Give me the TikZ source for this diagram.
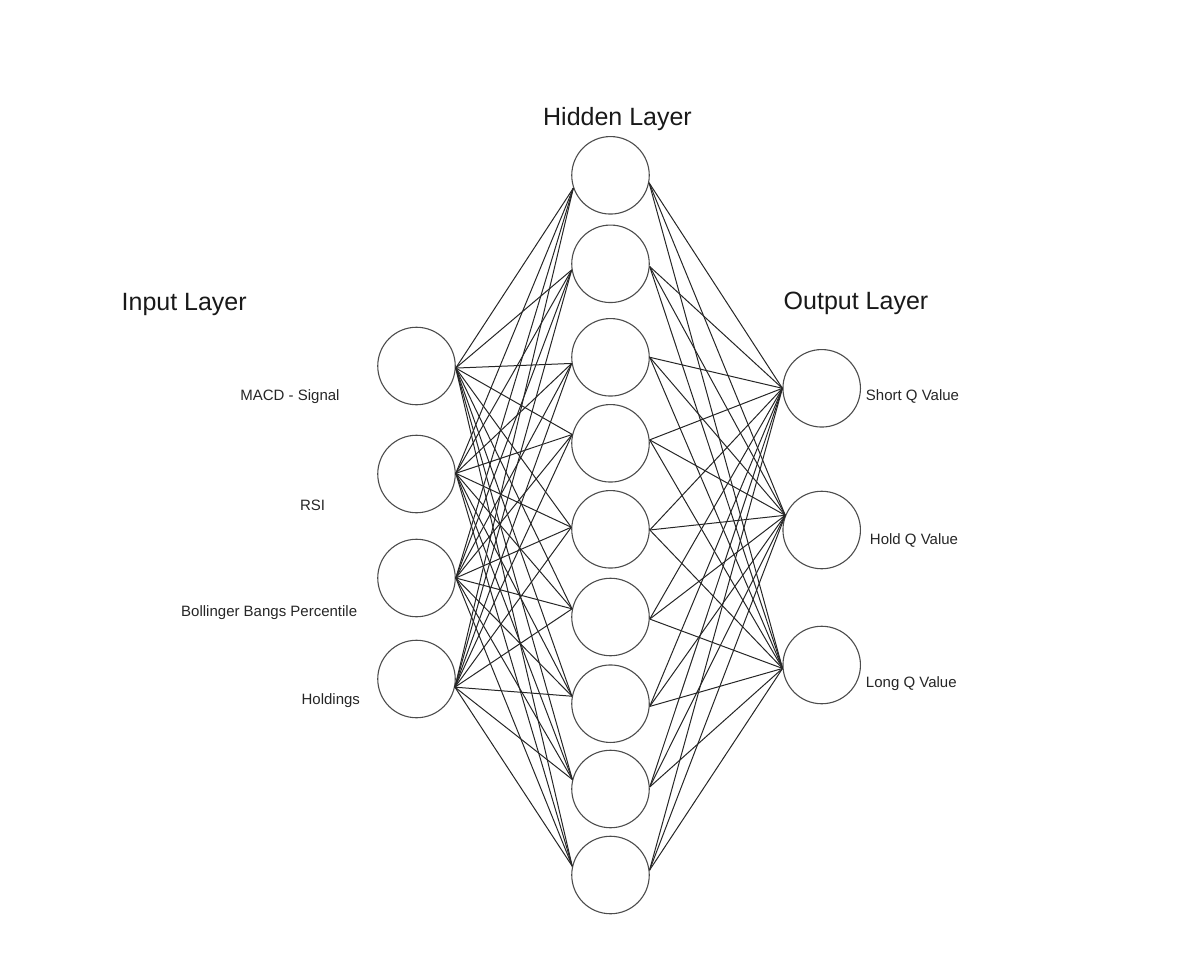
\documentclass[tikz,border=0pt]{standalone}
\usepackage{fontspec}
\setmainfont{Liberation Sans}
\begin{document}
\begin{tikzpicture}[x=1pt,y=-1pt,
  neuron/.style={circle,draw=black!70,line width=1.1pt,minimum size=77.5pt,inner sep=0pt},
  link/.style={draw=black!85,line width=1pt},
  title/.style={font=\fontsize{25}{30}\selectfont,text=black!90,anchor=base,inner sep=0pt},
  lbl/.style={font=\fontsize{15}{18}\selectfont,text=black!85,anchor=base,inner sep=0pt}]
\useasboundingbox (0,0) rectangle (1186,972);

% input layer
\foreach \i/\y/\a in {1/366/-3, 2/474/1.6, 3/578/-0.7, 4/679/-12}{
  \node[neuron] (i\i) at (416.5,\y) {};
  \coordinate (io\i) at (i\i.\a);
}
% hidden layer
\foreach \j/\y/\l/\r in {1/175.3/199.6/-11.9, 2/263.8/189/-4.3, 3/357.3/189/0.9,
  4/443.3/167.6/5.9, 5/529.3/177/-1, 6/617/168.5/-3.4, 7/703.7/169.6/-4.4,
  8/789/166.6/3.4, 9/875/167.6/7.4}{
  \node[neuron] (h\j) at (610.5,\y) {};
  \coordinate (hl\j) at (h\j.\l);
  \coordinate (hr\j) at (h\j.\r);
}
% output layer
\foreach \k/\y/\a in {1/388.3/180, 2/530/158, 3/665/185}{
  \node[neuron] (o\k) at (821.7,\y) {};
  \coordinate (ol\k) at (o\k.\a);
}

% connections
\foreach \i in {1,...,4}{
  \foreach \j in {1,...,9}{
    \draw[link] (io\i) -- (hl\j);
  }
}
\foreach \j in {1,...,9}{
  \foreach \k in {1,2,3}{
    \draw[link] (hr\j) -- (ol\k);
  }
}

% titles
\node[title] (tin) at (184.2,310.7) {Input Layer};
\node[title] (thid) at (617.5,125) {Hidden Layer};
\node[title] (tout) at (856,309) {Output Layer};

% input labels
\node[lbl] (l1) at (290,400.5) {MACD - Signal};
\node[lbl] (l2) at (312.5,510.5) {RSI};
\node[lbl] (l3) at (269.2,616.2) {Bollinger Bangs Percentile};
\node[lbl] (l4) at (330.8,704.8) {Holdings};

% output labels
\node[lbl] (r1) at (912.5,400.5) {Short Q Value};
\node[lbl] (r2) at (914,544.8) {Hold Q Value};
\node[lbl] (r3) at (911.3,687.2) {Long Q Value};
\end{tikzpicture}
\end{document}
